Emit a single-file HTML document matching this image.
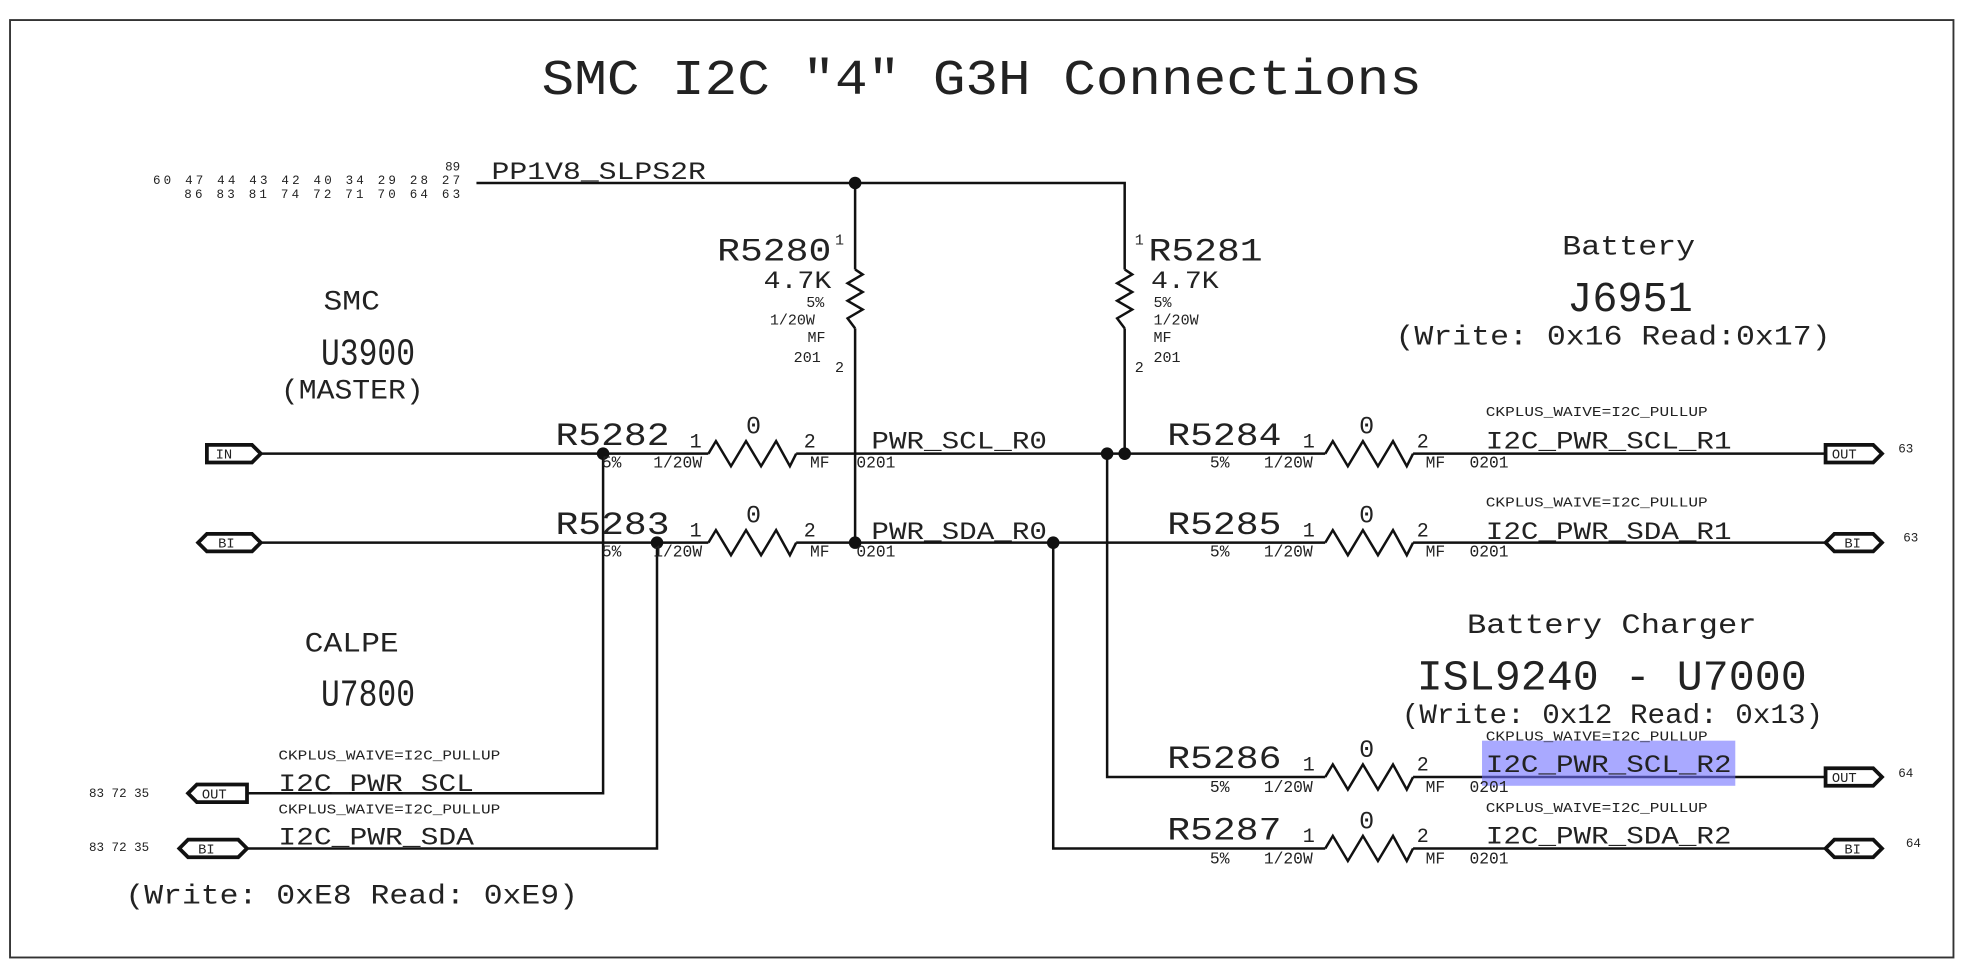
<!DOCTYPE html>
<html><head><meta charset="utf-8"><style>
html,body{margin:0;padding:0;background:#fff}
svg{display:block}
text{font-family:"Liberation Mono",monospace;fill:#222}
</style></head><body>
<svg width="1966" height="965" viewBox="0 0 1568 770" preserveAspectRatio="none" xmlns="http://www.w3.org/2000/svg">
<rect x="0" y="0" width="1568" height="770" fill="#fff"/>
<rect x="8" y="16" width="1550" height="748" fill="none" stroke="#333" stroke-width="1.5"/>
<text x="432" y="75" font-size="40" textLength="702" lengthAdjust="spacingAndGlyphs">SMC I2C "4" G3H Connections</text>

<g stroke="#111" stroke-width="2" fill="none">
<path d="M380,146 H897 V215 M897,262 V362"/>
<path d="M682,146 V215 M682,262 V433"/>
<path d="M682,215 L688,219 L676,226 L688,233 L676,240 L688,247 L676,254 L682,262"/>
<path d="M897,215 L903,219 L891,226 L903,233 L891,240 L903,247 L891,254 L897,262"/>
<path d="M208,362 H565 M635,362 H1057 M1127,362 H1456"/>
<path d="M565,362 L571,352 L583,372 L595,352 L607,372 L619,352 L630,372 L635,362"/>
<path d="M1057,362 L1063,352 L1075,372 L1087,352 L1099,372 L1111,352 L1122,372 L1127,362"/>
<path d="M208,433 H565 M635,433 H1057 M1127,433 H1456"/>
<path d="M565,433 L571,423 L583,443 L595,423 L607,443 L619,423 L630,443 L635,433"/>
<path d="M1057,433 L1063,423 L1075,443 L1087,423 L1099,443 L1111,423 L1122,443 L1127,433"/>
<path d="M481,362 V633 H197"/>
<path d="M524,433 V677 H197"/>
<path d="M883,362 V620 H1057 M1127,620 H1456"/>
<path d="M1057,620 L1063,610 L1075,630 L1087,610 L1099,630 L1111,610 L1122,630 L1127,620"/>
<path d="M840,433 V677 H1057 M1127,677 H1456"/>
<path d="M1057,677 L1063,667 L1075,687 L1087,667 L1099,687 L1111,667 L1122,687 L1127,677"/>
</g>
<g fill="#111">
<circle cx="682" cy="146" r="5"/>
<circle cx="481" cy="362" r="5"/><circle cx="883" cy="362" r="5"/><circle cx="897" cy="362" r="5"/>
<circle cx="524" cy="433" r="5"/><circle cx="682" cy="433" r="5"/><circle cx="840" cy="433" r="5"/>
</g>

<g stroke="#111" stroke-width="3" fill="#fff">
<path d="M165,355 H201 L208,362 L201,369 H165 Z"/>
<path d="M165,426 H201 L208,433 L201,440 H165 L158,433 Z"/>
<path d="M157,626 H197 V640 H157 L150,633 Z" />
<path d="M150,670 H190 L197,677 L190,684 H150 L143,677 Z"/>
<path d="M1456,355 H1494 L1501,362 L1494,369 H1456 Z"/>
<path d="M1463,426 H1494 L1501,433 L1494,440 H1463 L1456,433 Z"/>
<path d="M1456,613 H1494 L1501,620 L1494,627 H1456 Z"/>
<path d="M1463,670 H1494 L1501,677 L1494,684 H1463 L1456,677 Z"/>
</g>
<g font-size="11">
<text x="172" y="366">IN</text><text x="174" y="437">BI</text>
<text x="161" y="637">OUT</text><text x="158" y="681">BI</text>
<text x="1461" y="366">OUT</text><text x="1471" y="437">BI</text>
<text x="1461" y="624">OUT</text><text x="1471" y="681">BI</text>
</g>
<g font-size="10" fill="#444">
<text x="1514" y="361">63</text><text x="1518" y="432">63</text>
<text x="1514" y="620">64</text><text x="1520" y="676">64</text>
<text x="71" y="636">83 72 35</text><text x="71" y="679">83 72 35</text>
<text x="355" y="136">89</text>
<text x="122" y="147" textLength="245" lengthAdjust="spacing">60 47 44 43 42 40 34 29 28 27</text>
<text x="147" y="158" textLength="220" lengthAdjust="spacing">86 83 81 74 72 71 70 64 63</text>
</g>

<rect x="1182" y="591" width="202" height="36" fill="#6f6fff" fill-opacity="0.6"/>

<text x="392" y="143" font-size="20" textLength="171" lengthAdjust="spacingAndGlyphs">PP1V8_SLPS2R</text>

<text x="572" y="208" font-size="26" textLength="91" lengthAdjust="spacingAndGlyphs">R5280</text>
<text x="666" y="195" font-size="12">1</text><text x="666" y="297" font-size="12">2</text>
<text x="609" y="230" font-size="20" textLength="54" lengthAdjust="spacingAndGlyphs">4.7K</text>
<g font-size="12"><text x="643" y="245">5%</text><text x="614" y="259">1/20W</text><text x="644" y="273">MF</text><text x="633" y="289">201</text></g>
<text x="905" y="195" font-size="12">1</text><text x="905" y="297" font-size="12">2</text>
<text x="916" y="208" font-size="26" textLength="91" lengthAdjust="spacingAndGlyphs">R5281</text>
<text x="918" y="230" font-size="20" textLength="54" lengthAdjust="spacingAndGlyphs">4.7K</text>
<g font-size="12"><text x="920" y="245">5%</text><text x="920" y="259">1/20W</text><text x="920" y="273">MF</text><text x="920" y="289">201</text></g>

<g font-size="26">
<text x="443" y="355" textLength="91" lengthAdjust="spacingAndGlyphs">R5282</text>
<text x="443" y="426" textLength="91" lengthAdjust="spacingAndGlyphs">R5283</text>
<text x="931" y="355" textLength="91" lengthAdjust="spacingAndGlyphs">R5284</text>
<text x="931" y="426" textLength="91" lengthAdjust="spacingAndGlyphs">R5285</text>
<text x="931" y="613" textLength="91" lengthAdjust="spacingAndGlyphs">R5286</text>
<text x="931" y="670" textLength="91" lengthAdjust="spacingAndGlyphs">R5287</text>
</g>
<g font-size="16">
<text x="550" y="357">1</text><text x="641" y="357">2</text>
<text x="550" y="428">1</text><text x="641" y="428">2</text>
<text x="1039" y="357">1</text><text x="1130" y="357">2</text>
<text x="1039" y="428">1</text><text x="1130" y="428">2</text>
<text x="1039" y="615">1</text><text x="1130" y="615">2</text>
<text x="1039" y="672">1</text><text x="1130" y="672">2</text>
</g>
<g font-size="20">
<text x="595" y="346">0</text><text x="595" y="417">0</text>
<text x="1084" y="346">0</text><text x="1084" y="417">0</text>
<text x="1084" y="604">0</text><text x="1084" y="661">0</text>
</g>
<g font-size="13" fill="#333">
<text x="480" y="373">5%</text><text x="521" y="373">1/20W</text><text x="646" y="373">MF</text><text x="683" y="373">0201</text>
<text x="480" y="444">5%</text><text x="521" y="444">1/20W</text><text x="646" y="444">MF</text><text x="683" y="444">0201</text>
<text x="965" y="373">5%</text><text x="1008" y="373">1/20W</text><text x="1137" y="373">MF</text><text x="1172" y="373">0201</text>
<text x="965" y="444">5%</text><text x="1008" y="444">1/20W</text><text x="1137" y="444">MF</text><text x="1172" y="444">0201</text>
<text x="965" y="632">5%</text><text x="1008" y="632">1/20W</text><text x="1137" y="632">MF</text><text x="1172" y="632">0201</text>
<text x="965" y="689">5%</text><text x="1008" y="689">1/20W</text><text x="1137" y="689">MF</text><text x="1172" y="689">0201</text>
</g>

<g font-size="20">
<text x="695" y="358" textLength="140" lengthAdjust="spacingAndGlyphs">PWR_SCL_R0</text>
<text x="695" y="430" textLength="140" lengthAdjust="spacingAndGlyphs">PWR_SDA_R0</text>
<text x="1185" y="358" textLength="196" lengthAdjust="spacingAndGlyphs">I2C_PWR_SCL_R1</text>
<text x="1185" y="430" textLength="196" lengthAdjust="spacingAndGlyphs">I2C_PWR_SDA_R1</text>
<text x="1185" y="616" textLength="196" lengthAdjust="spacingAndGlyphs">I2C_PWR_SCL_R2</text>
<text x="1185" y="673" textLength="196" lengthAdjust="spacingAndGlyphs">I2C_PWR_SDA_R2</text>
<text x="222" y="631" textLength="156" lengthAdjust="spacingAndGlyphs">I2C_PWR_SCL</text>
<text x="222" y="674" textLength="156" lengthAdjust="spacingAndGlyphs">I2C_PWR_SDA</text>
</g>
<g font-size="11" fill="#333">
<text x="1185" y="332" textLength="177" lengthAdjust="spacingAndGlyphs">CKPLUS_WAIVE=I2C_PULLUP</text>
<text x="1185" y="404" textLength="177" lengthAdjust="spacingAndGlyphs">CKPLUS_WAIVE=I2C_PULLUP</text>
<text x="1185" y="591" textLength="177" lengthAdjust="spacingAndGlyphs">CKPLUS_WAIVE=I2C_PULLUP</text>
<text x="1185" y="648" textLength="177" lengthAdjust="spacingAndGlyphs">CKPLUS_WAIVE=I2C_PULLUP</text>
<text x="222" y="606" textLength="177" lengthAdjust="spacingAndGlyphs">CKPLUS_WAIVE=I2C_PULLUP</text>
<text x="222" y="649" textLength="177" lengthAdjust="spacingAndGlyphs">CKPLUS_WAIVE=I2C_PULLUP</text>
</g>

<g font-size="22">
<text x="258" y="247" textLength="45" lengthAdjust="spacingAndGlyphs">SMC</text>
<text x="224" y="318" textLength="114" lengthAdjust="spacingAndGlyphs">(MASTER)</text>
<text x="243" y="520" textLength="75" lengthAdjust="spacingAndGlyphs">CALPE</text>
<text x="100" y="721" textLength="361" lengthAdjust="spacingAndGlyphs">(Write: 0xE8 Read: 0xE9)</text>
<text x="1246" y="203" textLength="106" lengthAdjust="spacingAndGlyphs">Battery</text>
<text x="1113" y="275" textLength="347" lengthAdjust="spacingAndGlyphs">(Write: 0x16 Read:0x17)</text>
<text x="1170" y="505" textLength="231" lengthAdjust="spacingAndGlyphs">Battery Charger</text>
<text x="1118" y="577" textLength="336" lengthAdjust="spacingAndGlyphs">(Write: 0x12 Read: 0x13)</text>
</g>
<g font-size="30">
<text x="256" y="291" textLength="75" lengthAdjust="spacingAndGlyphs">U3900</text>
<text x="256" y="563" textLength="75" lengthAdjust="spacingAndGlyphs">U7800</text>
</g>
<g font-size="34">
<text x="1250" y="248" textLength="100" lengthAdjust="spacingAndGlyphs">J6951</text>
<text x="1130" y="550" textLength="311" lengthAdjust="spacingAndGlyphs">ISL9240 - U7000</text>
</g>
</svg>
</body></html>
